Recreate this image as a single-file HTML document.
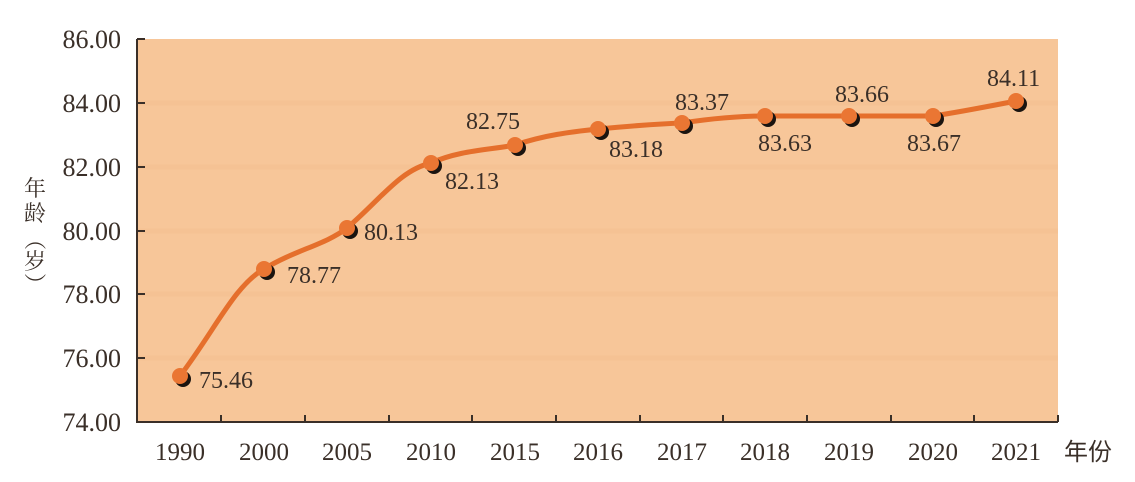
<!DOCTYPE html>
<html><head><meta charset="utf-8"><style>
html,body{margin:0;padding:0;background:#fff;}
svg{display:block;}
text{font-family:"Liberation Serif","Noto Serif CJK SC",serif;fill:#3a2f28;}
</style></head><body>
<svg width="1135" height="482" viewBox="0 0 1135 482" xmlns="http://www.w3.org/2000/svg">
<rect x="137" y="39" width="921" height="383" fill="#f7c699"/>
<g stroke="#f3bd8c" stroke-width="5" opacity="0.35">
<line x1="137" y1="103" x2="1058" y2="103"/><line x1="137" y1="167" x2="1058" y2="167"/>
<line x1="137" y1="231" x2="1058" y2="231"/><line x1="137" y1="294" x2="1058" y2="294"/>
<line x1="137" y1="358" x2="1058" y2="358"/>
</g>
<g stroke="#3a2f28" stroke-width="2" fill="none">
<path d="M137 39 V422 H1058"/>
<line x1="137" y1="39" x2="145" y2="39"/><line x1="137" y1="103" x2="145" y2="103"/>
<line x1="137" y1="167" x2="145" y2="167"/><line x1="137" y1="231" x2="145" y2="231"/>
<line x1="137" y1="294" x2="145" y2="294"/><line x1="137" y1="358" x2="145" y2="358"/>
<g>
<line x1="221" y1="422" x2="221" y2="415"/><line x1="305" y1="422" x2="305" y2="415"/>
<line x1="389" y1="422" x2="389" y2="415"/><line x1="472" y1="422" x2="472" y2="415"/>
<line x1="556" y1="422" x2="556" y2="415"/><line x1="640" y1="422" x2="640" y2="415"/>
<line x1="723" y1="422" x2="723" y2="415"/><line x1="807" y1="422" x2="807" y2="415"/>
<line x1="891" y1="422" x2="891" y2="415"/><line x1="974" y1="422" x2="974" y2="415"/>
<line x1="1058" y1="422" x2="1058" y2="415"/>
</g>
</g>
<g font-size="26" text-anchor="end">
<text x="121" y="48">86.00</text><text x="121" y="112">84.00</text>
<text x="121" y="176">82.00</text><text x="121" y="240">80.00</text>
<text x="121" y="303">78.00</text><text x="121" y="367">76.00</text>
<text x="121" y="431">74.00</text>
</g>
<g font-size="25" text-anchor="middle">
<text x="180" y="460">1990</text><text x="264" y="460">2000</text><text x="347" y="460">2005</text>
<text x="431" y="460">2010</text><text x="515" y="460">2015</text><text x="598" y="460">2016</text>
<text x="682" y="460">2017</text><text x="765" y="460">2018</text><text x="849" y="460">2019</text>
<text x="933" y="460">2020</text><text x="1016" y="460">2021</text>
</g>
<text x="1064" y="460" font-size="24" style="font-family:'Noto Sans CJK SC',sans-serif">年份</text>
<g font-size="22" text-anchor="middle" style="font-family:'Noto Sans CJK SC',sans-serif">
<text x="35" y="196">年</text><text x="35" y="221">龄</text>
<text x="35" y="247" transform="rotate(90 35 239)">（</text>
<text x="35" y="269">岁</text>
<text x="35" y="292" transform="rotate(90 35 284)">）</text>
</g>
<path d="M180 376 C215 330,235 285,264 269 C295 250,325 245,347 228 C380 200,400 170,431 163 C460 150,490 150,515 145 C545 135,570 132,598 129 C630 126,655 124,682 123 C715 118,740 116,765 116 L849 116 L933 116 C960 112,990 106,1016 101" fill="none" stroke="#e56f2c" stroke-width="5"/>
<g>
<g fill="#1a1410">
<circle cx="183" cy="379" r="8"/><circle cx="267" cy="272" r="8"/><circle cx="350" cy="231" r="8"/>
<circle cx="434" cy="166" r="8"/><circle cx="518" cy="148" r="8"/><circle cx="601" cy="132" r="8"/>
<circle cx="685" cy="126" r="8"/><circle cx="768" cy="119" r="8"/><circle cx="852" cy="119" r="8"/>
<circle cx="936" cy="119" r="8"/><circle cx="1019" cy="104" r="8"/>
</g>
<g fill="#ea7633">
<circle cx="180" cy="376" r="8"/><circle cx="264" cy="269" r="8"/><circle cx="347" cy="228" r="8"/>
<circle cx="431" cy="163" r="8"/><circle cx="515" cy="145" r="8"/><circle cx="598" cy="129" r="8"/>
<circle cx="682" cy="123" r="8"/><circle cx="765" cy="116" r="8"/><circle cx="849" cy="116" r="8"/>
<circle cx="933" cy="116" r="8"/><circle cx="1016" cy="101" r="8"/>
</g>
</g>
<g font-size="24">
<text x="199" y="388">75.46</text>
<text x="287" y="283">78.77</text>
<text x="364" y="240">80.13</text>
<text x="445" y="189">82.13</text>
<text x="466" y="129">82.75</text>
<text x="609" y="157">83.18</text>
<text x="675" y="110">83.37</text>
<text x="758" y="151">83.63</text>
<text x="835" y="102">83.66</text>
<text x="907" y="151">83.67</text>
<text x="987" y="86">84.11</text>
</g>
</svg>
</body></html>
